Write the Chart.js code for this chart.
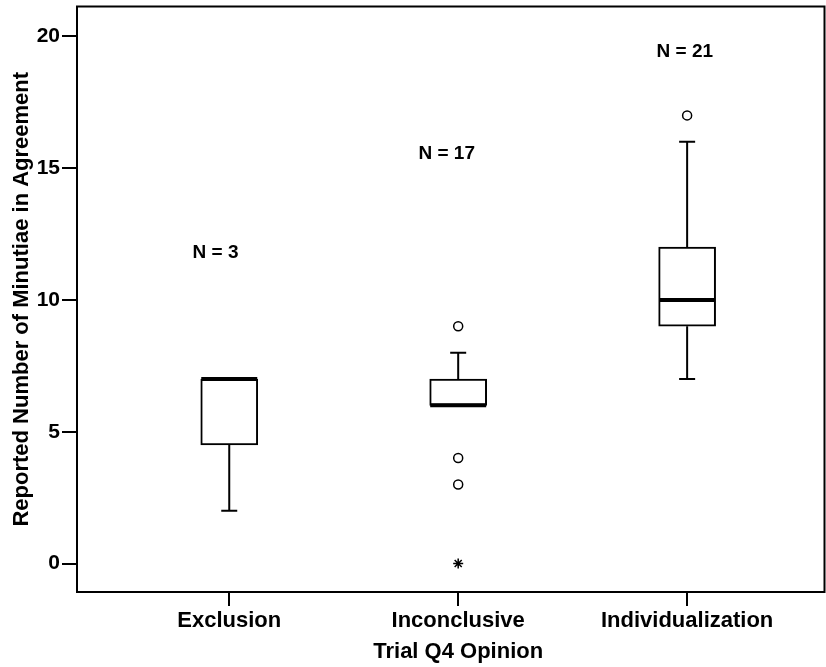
<!DOCTYPE html>
<html>
<head>
<meta charset="utf-8">
<script src="https://cdn.jsdelivr.net/npm/chart.js@4.4.1/dist/chart.umd.min.js"></script>
<style>
  html, body { margin: 0; padding: 0; background: #fff; overflow: hidden; }
  #wrap { width: 831px; height: 667px; position: relative; }
</style>
</head>
<body>
<div id="wrap"><canvas id="boxChart"></canvas></div>
<script>
// dados
const categories = ['Exclusion', 'Inconclusive', 'Individualization'];
const xPos = [1, 2, 3];
const q1 = [4.5, 6, 9];
const medians = [7, 6, 10];
const q3 = [7, 7, 12];
const whiskerLow = [2, 6, 7];
const whiskerHigh = [7, 8, 16];
const outlierCat = [2, 2, 2, 3];
const outlierVal = [9, 4, 3, 17];
const extremeCat = [2];
const extremeVal = [0];
const nLabels = ['N = 3', 'N = 17', 'N = 21'];
const nLabelX = [0.94, 1.95, 2.99];
const nLabelY = [11.8, 15.55, 19.4];
const yTicks = [0, 5, 10, 15, 20];

const FONT = "'Liberation Sans', Arial, sans-serif";

// whiskers, medianas, moldura e textos
const boxPlugin = {
  id: 'boxExtras',
  beforeDatasetsDraw(chart) {
    const { ctx, scales: { x, y } } = chart;
    ctx.save();
    ctx.strokeStyle = '#000';
    ctx.lineWidth = 2;
    const cap = 8;
    xPos.forEach((v, i) => {
      const px = x.getPixelForValue(v);
      if (whiskerHigh[i] > q3[i]) {
        const top = y.getPixelForValue(whiskerHigh[i]);
        ctx.beginPath();
        ctx.moveTo(px, y.getPixelForValue(q3[i]));
        ctx.lineTo(px, top);
        ctx.moveTo(px - cap, top);
        ctx.lineTo(px + cap, top);
        ctx.stroke();
      }
      if (whiskerLow[i] < q1[i]) {
        const bot = y.getPixelForValue(whiskerLow[i]);
        ctx.beginPath();
        ctx.moveTo(px, y.getPixelForValue(q1[i]));
        ctx.lineTo(px, bot);
        ctx.moveTo(px - cap, bot);
        ctx.lineTo(px + cap, bot);
        ctx.stroke();
      }
    });
    ctx.restore();
  },
  afterDatasetsDraw(chart) {
    const { ctx, chartArea: a, scales: { x, y } } = chart;
    ctx.save();
    // medianas
    ctx.strokeStyle = '#000';
    ctx.lineWidth = 4;
    const half = 28;
    xPos.forEach((v, i) => {
      const px = x.getPixelForValue(v);
      const py = y.getPixelForValue(medians[i]);
      ctx.beginPath();
      ctx.moveTo(px - half, py);
      ctx.lineTo(px + half, py);
      ctx.stroke();
    });
    // moldura
    ctx.lineWidth = 2;
    ctx.strokeRect(a.left, a.top, a.right - a.left, a.bottom - a.top);
    // rótulos N
    ctx.fillStyle = '#000';
    ctx.font = 'bold 19px ' + FONT;
    ctx.textAlign = 'center';
    ctx.textBaseline = 'middle';
    nLabels.forEach((t, i) => {
      ctx.fillText(t, x.getPixelForValue(nLabelX[i]), y.getPixelForValue(nLabelY[i]));
    });
    // títulos dos eixos
    ctx.font = 'bold 22px ' + FONT;
    ctx.textBaseline = 'alphabetic';
    ctx.fillText('Trial Q4 Opinion', x.getPixelForValue(2), 658);
    ctx.translate(28, (a.top + a.bottom) / 2);
    ctx.rotate(-Math.PI / 2);
    ctx.fillText('Reported Number of Minutiae in Agreement', 0, 0);
    ctx.restore();
  }
};

const ctx = document.getElementById('boxChart').getContext('2d');
new Chart(ctx, {
  type: 'bar',
  data: {
    datasets: [
      {
        type: 'bar',
        data: xPos.map((v, i) => ({ x: v, y: [q1[i], q3[i]] })),
        backgroundColor: '#fff',
        borderColor: '#000',
        borderWidth: 2,
        borderSkipped: false,
        barThickness: 57
      },
      {
        type: 'scatter',
        data: outlierCat.map((c, i) => ({ x: c, y: outlierVal[i] })),
        pointStyle: 'circle',
        pointRadius: 4.5,
        backgroundColor: '#fff',
        borderColor: '#000',
        borderWidth: 1.5
      },
      {
        type: 'scatter',
        data: extremeCat.map((c, i) => ({ x: c, y: extremeVal[i] })),
        pointStyle: 'star',
        pointRadius: 5,
        backgroundColor: '#000',
        borderColor: '#000',
        borderWidth: 1.5
      }
    ]
  },
  options: {
    responsive: true,
    maintainAspectRatio: false,
    animation: false,
    layout: { padding: { top: 6, right: 0, left: 0, bottom: 0 } },
    plugins: { legend: { display: false }, tooltip: { enabled: false } },
    scales: {
      x: {
        type: 'linear',
        offset: false,
        min: 0.335,
        max: 3.6,
        afterBuildTicks: s => { s.ticks = xPos.map(v => ({ value: v })); },
        afterFit: s => { s.height = 75; s.paddingLeft = 0; s.paddingRight = 0; },
        border: { display: false },
        grid: { offset: false, drawOnChartArea: false, drawTicks: true, tickLength: 14, color: '#000', lineWidth: 2 },
        ticks: {
          color: '#000',
          padding: 2,
          font: { family: FONT, size: 22, weight: 'bold' },
          callback: v => categories[xPos.indexOf(v)] || ''
        }
      },
      y: {
        min: -1.08,
        max: 21.13,
        afterBuildTicks: s => { s.ticks = yTicks.map(v => ({ value: v })); },
        afterFit: s => { s.width = 77; s.paddingTop = 0; s.paddingBottom = 0; },
        border: { display: false },
        grid: { drawOnChartArea: false, drawTicks: true, tickLength: 15, color: '#000', lineWidth: 2 },
        ticks: {
          color: '#000',
          padding: 2,
          font: { family: FONT, size: 21, weight: 'bold' }
        }
      }
    }
  },
  plugins: [boxPlugin]
});
</script>
</body>
</html>
